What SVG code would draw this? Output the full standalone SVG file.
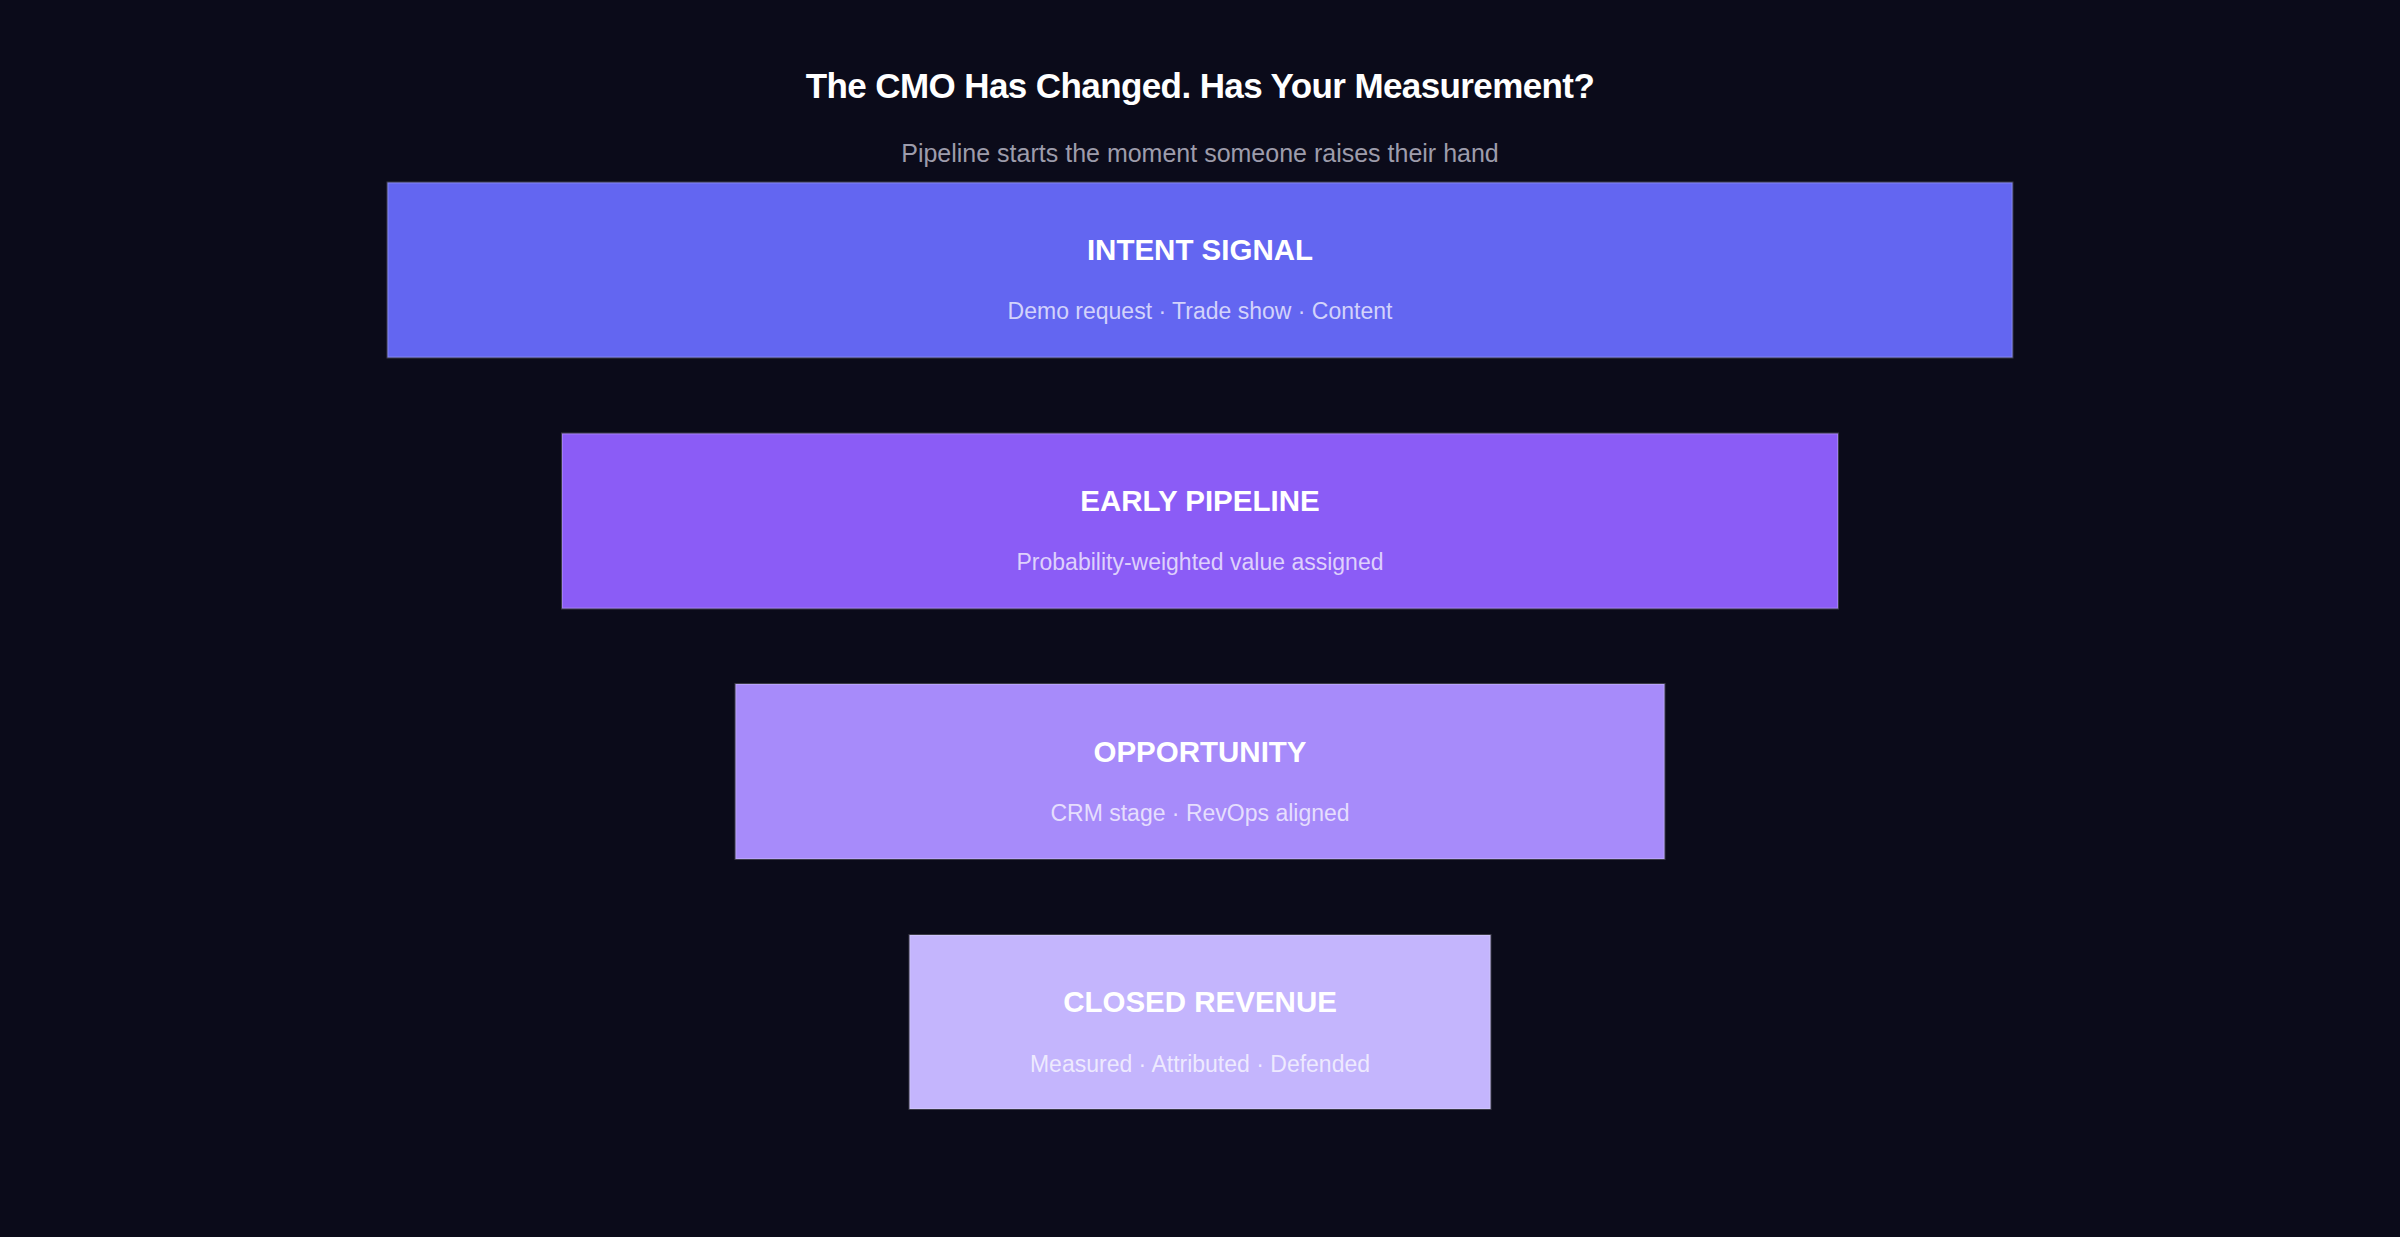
<svg xmlns="http://www.w3.org/2000/svg" width="2400" height="1237" viewBox="0 0 2400 1237">
  <style>
    .title { font-family: "Liberation Sans", Arial, sans-serif; font-size: 35px; font-weight: bold; fill: #ffffff; text-anchor: middle; letter-spacing: -0.6px; }
    .subtitle { font-family: "Liberation Sans", Arial, sans-serif; font-size: 25px; fill: #9d9cab; text-anchor: middle; }
    .stage { stroke: rgba(255,255,255,0.2); stroke-width: 2; }
    .stage-title { font-family: "Liberation Sans", Arial, sans-serif; font-size: 29.5px; font-weight: bold; fill: #ffffff; text-anchor: middle; }
    .stage-sub { font-family: "Liberation Sans", Arial, sans-serif; font-size: 23px; fill: #ffffff; fill-opacity: 0.72; text-anchor: middle; }
  </style>
  <rect x="0" y="0" width="2400" height="1237" fill="#0b0b1a"/>
  <text class="title" x="1200" y="98">The CMO Has Changed. Has Your Measurement?</text>
  <text class="subtitle" x="1200" y="162">Pipeline starts the moment someone raises their hand</text>

  <g id="node-intent">
    <rect class="stage" x="387.5" y="182.5" width="1625" height="175" fill="#6366f1"/>
    <text class="stage-title" x="1200" y="260">INTENT SIGNAL</text>
    <text class="stage-sub" x="1200" y="319">Demo request · Trade show · Content</text>
  </g>
  <g id="node-early">
    <rect class="stage" x="562" y="433.5" width="1276" height="175" fill="#8b5cf6"/>
    <text class="stage-title" x="1200" y="511">EARLY PIPELINE</text>
    <text class="stage-sub" x="1200" y="570">Probability-weighted value assigned</text>
  </g>
  <g id="node-opportunity">
    <rect class="stage" x="735.5" y="684" width="929" height="175" fill="#a78bfa"/>
    <text class="stage-title" x="1200" y="761.5">OPPORTUNITY</text>
    <text class="stage-sub" x="1200" y="821">CRM stage · RevOps aligned</text>
  </g>
  <g id="node-closed">
    <rect class="stage" x="909.5" y="935" width="581" height="174" fill="#c4b5fd"/>
    <text class="stage-title" x="1200" y="1012">CLOSED REVENUE</text>
    <text class="stage-sub" x="1200" y="1072">Measured · Attributed · Defended</text>
  </g>
  <g id="connectors"></g>
</svg>
